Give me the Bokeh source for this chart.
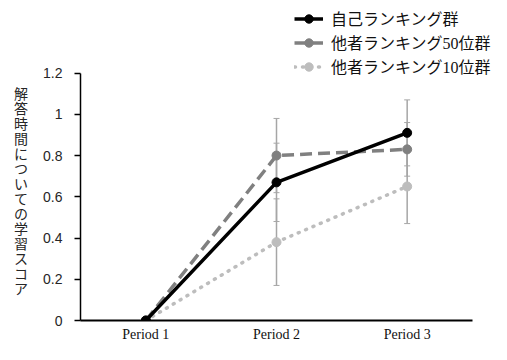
from bokeh.plotting import figure
from bokeh.models import (Legend, LegendItem, Whisker, TeeHead, ColumnDataSource,
                          FixedTicker, Range1d)
from bokeh.embed import file_html
from bokeh.resources import INLINE

periods = ["Period 1", "Period 2", "Period 3"]
series_names = ["自己ランキング群", "他者ランキング50位群", "他者ランキング10位群"]
self_rank = [0.0, 0.67, 0.91]
self_err = [0.0, 0.19, 0.16]
other50 = [0.0, 0.80, 0.83]
other50_err = [0.0, 0.18, 0.13]
other10 = [0.0, 0.38, 0.65]
other10_err = [0.0, 0.21, 0.18]
y_ticks = [0, 0.2, 0.4, 0.6, 0.8, 1.0, 1.2]
y_title = "解答時間についての学習スコア"

CJK = "'Noto Sans CJK JP'"
SERIF = "'Liberation Serif', 'Noto Sans CJK JP'"

# category centres on a numeric axis (category i sits at i + 0.5)
xpos = [i + 0.5 for i in range(len(periods))]

p = figure(width=491, height=344, x_range=Range1d(0, 3.1454), y_range=Range1d(0, 1.552),
           output_backend="svg", toolbar_location=None,
           min_border_left=80, min_border_right=0, min_border_top=0, min_border_bottom=0)
p.outline_line_color = None
p.grid.visible = False

styles = [
    dict(color="#000000", dash="solid", width=3.5, msize=9),
    dict(color="#808080", dash="12 6", width=3.5, msize=9),
    dict(color="#bdbdbd", dash="1 7", width=3.5, msize=9),
]
vals = [self_rank, other50, other10]
errs = [self_err, other50_err, other10_err]

# error bars
for v, e in zip(vals, errs):
    idx = [i for i in range(3) if e[i] > 0]
    src = ColumnDataSource(dict(x=[xpos[i] for i in idx],
                                up=[v[i] + e[i] for i in idx],
                                lo=[v[i] - e[i] for i in idx]))
    w = Whisker(source=src, base="x", upper="up", lower="lo", level="underlay",
                line_color="#a6a6a6", line_width=1.5,
                upper_head=TeeHead(size=6, line_color="#a6a6a6", line_width=1),
                lower_head=TeeHead(size=6, line_color="#a6a6a6", line_width=1))
    p.add_layout(w)

items = []
for name, v, s in list(zip(series_names, vals, styles))[::-1]:
    src = ColumnDataSource(dict(x=xpos, y=v))
    r1 = p.line("x", "y", source=src, line_color=s["color"], line_width=s["width"],
                line_dash=s["dash"], line_cap="round" if s["dash"] == "1 7" else "butt")
    r2 = p.scatter("x", "y", source=src, size=s["msize"], fill_color=s["color"],
                   line_color=s["color"])
    items.append(LegendItem(label=name, renderers=[r1, r2]))
items = items[::-1]

legend = Legend(items=items, location=(214, 242), padding=0, margin=0,
                border_line_color=None, background_fill_alpha=0,
                glyph_width=29, glyph_height=21, label_height=21, spacing=0,
                label_standoff=8, label_text_font=SERIF, label_text_font_size="16px",
                label_text_line_height=1.0, label_text_color="#111111")
p.add_layout(legend)

# axes
p.yaxis.ticker = FixedTicker(ticks=y_ticks)
p.yaxis.bounds = (0, 1.2)
p.yaxis.major_label_overrides = {0: "0", 0.2: "0.2", 0.4: "0.4", 0.6: "0.6",
                                 0.8: "0.8", 1.0: "1", 1.2: "1.2"}
p.yaxis.minor_tick_line_color = None
p.yaxis.major_tick_in = 0
p.yaxis.major_tick_out = 6
p.yaxis.major_tick_line_width = 1.5
p.yaxis.axis_line_width = 1.5
p.yaxis.major_label_standoff = 12
p.yaxis.major_label_text_font = "Liberation Sans"
p.yaxis.major_label_text_font_size = "14px"
p.yaxis.major_label_text_color = "#262626"
p.yaxis.axis_label = "\n\n\n\n" + "\n".join(y_title)
p.yaxis.axis_label_orientation = "horizontal"
p.yaxis.axis_label_standoff = 12
p.yaxis.axis_label_text_font = CJK
p.yaxis.axis_label_text_font_size = "14px"
p.yaxis.axis_label_text_font_style = "normal"
p.yaxis.axis_label_text_line_height = 0.75
p.yaxis.axis_label_text_color = "#262626"

p.xaxis.ticker = FixedTicker(ticks=xpos)
p.xaxis.bounds = (0, 3)
p.xaxis.major_label_overrides = {x: lab for x, lab in zip(xpos, periods)}
p.xaxis.major_tick_line_color = None
p.xaxis.minor_tick_line_color = None
p.xaxis.axis_line_width = 2
p.xaxis.major_label_standoff = 0
p.xaxis.major_label_text_font = "Liberation Serif"
p.xaxis.major_label_text_font_size = "14px"
p.xaxis.major_label_text_color = "#111111"

open("out.html", "w").write(file_html(p, INLINE))
